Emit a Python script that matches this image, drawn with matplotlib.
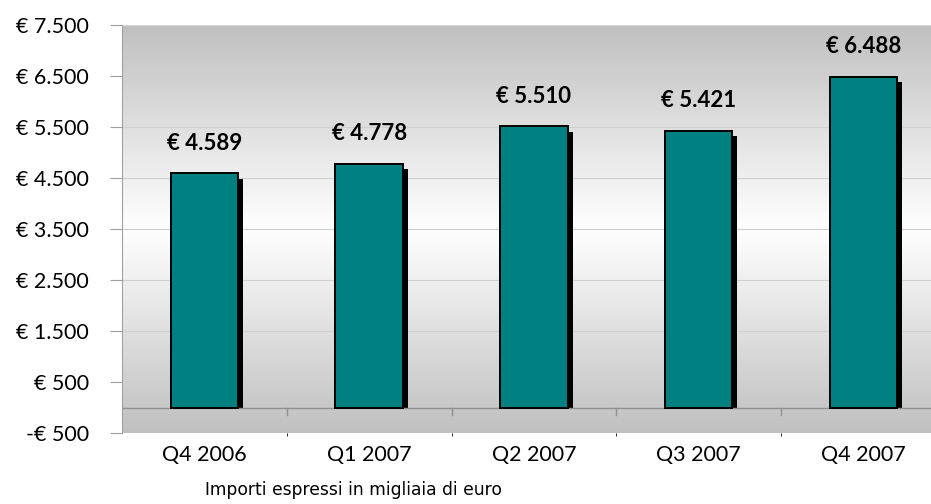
"""
Fatturato trimestrale - bar chart with drop shadow and grey gradient backdrop.
"""
import numpy as np
import matplotlib.pyplot as plt
from matplotlib.colors import LinearSegmentedColormap
from matplotlib.ticker import FixedLocator, NullFormatter

quarters = ["Q4 2006", "Q1 2007", "Q2 2007", "Q3 2007", "Q4 2007"]
amounts = [4589, 4778, 5510, 5421, 6488]
y_ticks = [-500, 500, 1500, 2500, 3500, 4500, 5500, 6500, 7500]
y_labels = ["-€ 500", "€ 500", "€ 1.500", "€ 2.500", "€ 3.500",
            "€ 4.500", "€ 5.500", "€ 6.500", "€ 7.500"]
note = "Importi espressi in migliaia di euro"

TEAL = "#008080"
FONT = "Lato"

fig = plt.figure(figsize=(9.31, 5.04), dpi=100)
ax = fig.add_axes([122 / 931, 71 / 504, 1 - 122 / 931, (433 - 25) / 504])

# gradient backdrop: grey at top and bottom, white in the middle
cmap = LinearSegmentedColormap.from_list(
    "bg", [(0, "#c0c0c0"), (0.5, "#ffffff"), (1, "#c0c0c0")])
grad = np.linspace(0, 1, 256).reshape(-1, 1)
ax.imshow(grad, cmap=cmap, aspect="auto", extent=[0, 1, 0, 1],
          transform=ax.transAxes, zorder=0, interpolation="bicubic")

x = np.arange(len(quarters))
w = 0.41
dx = 0.03   # shadow offset (data units on x)
dy = 100    # shadow offset (data units on y)

ax.bar(x + dx, [a - dy for a in amounts], width=w, color="black",
       zorder=2, linewidth=0)
ax.bar(x, amounts, width=w, color=TEAL, edgecolor="black",
       linewidth=1.4, zorder=3)

for xi, a in zip(x, amounts):
    label = "€ " + f"{a:,}".replace(",", ".")
    ax.text(xi, a + 390, label, ha="center", va="bottom",
            fontsize=16, fontweight="bold", family=FONT, zorder=4)

ax.set_xlim(-0.5, 4.41)
ax.set_ylim(-500, 7500)

ax.set_yticks(y_ticks)
ax.set_yticklabels(y_labels, family=FONT, fontsize=15.5)
ax.yaxis.grid(True, color="#cfcfcf", linewidth=0.8, zorder=1)
ax.tick_params(axis="y", length=9, color="#a0a0a0", pad=15)

# category labels without ticks, plus separator ticks on the zero line
ax.set_xticks(x)
ax.set_xticklabels(quarters, family=FONT, fontsize=15.5)
ax.tick_params(axis="x", length=0, pad=9)
ax.xaxis.set_minor_locator(FixedLocator(x[:-1] + 0.5))
ax.xaxis.set_minor_formatter(NullFormatter())

ax.axhline(0, color="#909090", linewidth=1.0, zorder=2)
ax.axhline(7500, color="#d8d8d8", linewidth=1.2, zorder=2)
for sep in x[:-1] + 0.5:
    ax.plot([sep, sep], [0, -150], color="#909090", linewidth=1.0, zorder=2)

for side in ["top", "right", "bottom"]:
    ax.spines[side].set_visible(False)
ax.spines["left"].set_color("#a0a0a0")
ax.set_axisbelow(True)

fig.text(205 / 931, 1 - 490 / 504, note, fontsize=12.3, va="center",
         family="DejaVu Sans")

plt.savefig("out.png", dpi=100)
